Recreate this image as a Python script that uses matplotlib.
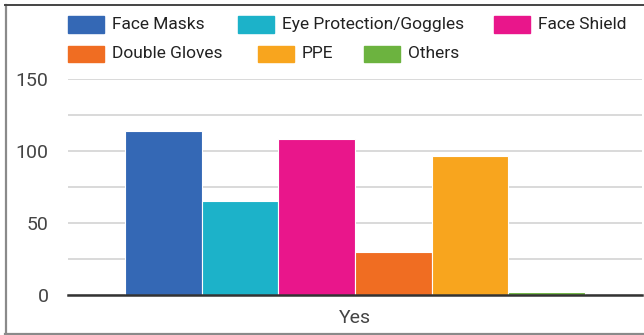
import matplotlib
matplotlib.use("Agg")
import matplotlib.pyplot as plt
from matplotlib.patches import Rectangle
from matplotlib.lines import Line2D

categories = ["Yes"]
series_names = ["Face Masks", "Eye Protection/Goggles", "Face Shield",
                "Double Gloves", "PPE", "Others"]
values = [114, 65, 108, 30, 96, 2]
colors = ["#3468b5", "#1cb2c9", "#e9168b", "#f06d22", "#f8a51e", "#6cb33f"]
y_ticks = [0, 50, 100, 150]

W, H = 644, 335
fig = plt.figure(figsize=(W / 100, H / 100), dpi=100)
plt.rcParams['font.family'] = ['Roboto', 'DejaVu Sans']

def fx(px):
    return px / W

def fy(py):
    return 1 - py / H

ax = fig.add_axes([fx(68), fy(294.7), fx(642) - fx(68), fy(78.7) - fy(294.7)])

n = len(series_names)
group = 0.8
bw = group / n
for i, (name, v, c) in enumerate(zip(series_names, values, colors)):
    off = (i - (n - 1) / 2) * bw
    ax.bar(0 + off, v, width=bw, color=c, edgecolor="white", linewidth=0.8,
           label=name, zorder=3)

ax.set_xlim(-0.5, 0.5)
ax.set_ylim(0, 150)
ax.set_yticks(y_ticks)
ax.set_yticks([25, 75, 125], minor=True)
ax.grid(axis="y", which="both", color="#d3d3d3", linewidth=1.2, zorder=0)
ax.set_xticks([0])
ax.set_xticklabels(categories)
ax.tick_params(axis="both", which="both", length=0)
ax.tick_params(axis="y", labelsize=14, labelcolor="#444444", pad=14)
ax.tick_params(axis="x", labelsize=14, labelcolor="#444444", pad=10)
for s in ["top", "right", "left"]:
    ax.spines[s].set_visible(False)
ax.spines["bottom"].set_color("#333333")
ax.spines["bottom"].set_linewidth(1.8)
ax.spines["bottom"].set_zorder(4)

# legend (flow layout, two rows)
legend_pos = [(68, 24.5), (238, 24.5), (494, 24.5),
              (68, 54), (258, 54), (364, 54)]
pw, ph = 36, 16
for (px, py), name, c in zip(legend_pos, series_names, colors):
    fig.add_artist(Rectangle((fx(px), fy(py + ph / 2)), fx(pw), ph / H,
                             transform=fig.transFigure, color=c))
    fig.text(fx(px + pw + 8), fy(py), name, fontsize=12.5, color="#222222",
             va="center", ha="left")

# frame lines
fig.add_artist(Line2D([fx(5.5), fx(5.5)], [fy(5), fy(333.5)], color="#8a8a8a",
                      linewidth=1.6, transform=fig.transFigure))
fig.add_artist(Line2D([fx(5), fx(644)], [fy(5), fy(5)], color="#444444",
                      linewidth=1.4, transform=fig.transFigure))
fig.add_artist(Line2D([fx(5), fx(644)], [fy(333.5), fy(333.5)], color="#8a8a8a",
                      linewidth=1.6, transform=fig.transFigure))

fig.savefig("out.png", dpi=100)
